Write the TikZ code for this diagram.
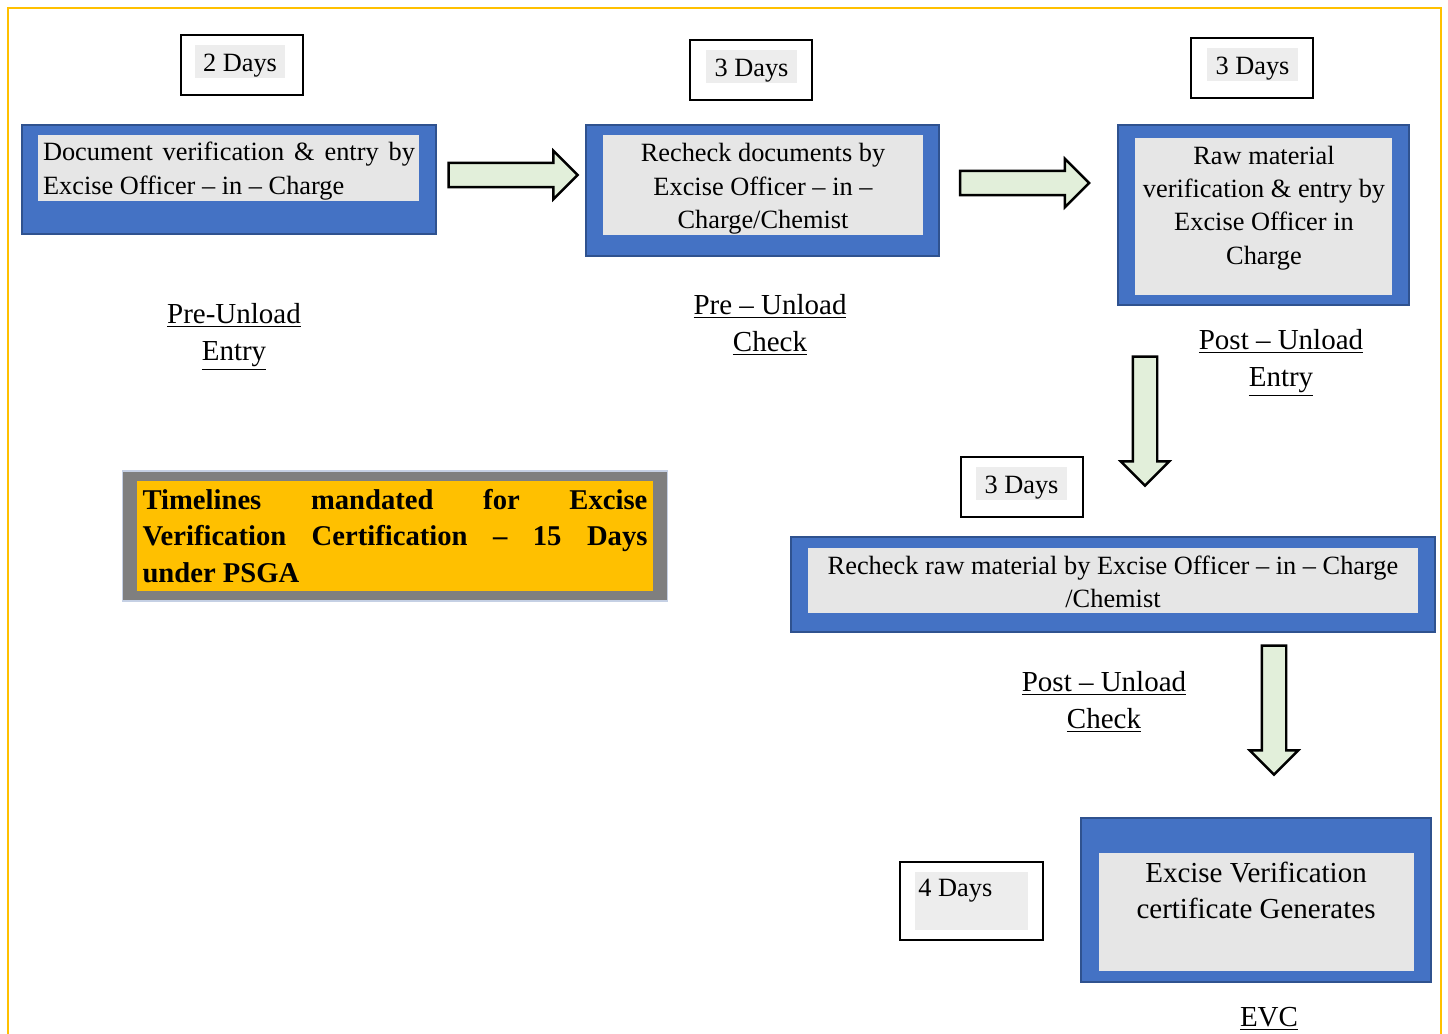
\documentclass[tikz,border=0pt]{standalone}
\usepackage{fontspec}
\setmainfont{Liberation Serif}
\usetikzlibrary{shapes.arrows}
\definecolor{boxblue}{HTML}{4472C4}
\definecolor{bluedark}{HTML}{2F528F}
\definecolor{boxgray}{HTML}{E6E6E6}
\definecolor{daysgray}{HTML}{EDEDED}
\definecolor{arrowgreen}{HTML}{E2EFDA}
\definecolor{frameyellow}{HTML}{FFC000}
\definecolor{notegray}{HTML}{7F7F7F}
\definecolor{noteedge}{HTML}{C5D0E4}
\hyphenpenalty=10000
\tolerance=9999
\tikzset{
  bluebox/.style={draw=bluedark,line width=1.2pt,fill=boxblue,inner sep=0pt},
  graybox/.style={fill=boxgray,inner sep=0pt},
  boxtext/.style={font=\fontsize{15}{19}\selectfont,align=center,inner sep=0pt},
  daysbox/.style={draw=black,line width=0.6pt,fill=white,minimum width=2.44cm,minimum height=1.2cm,inner sep=0pt},
  daysfill/.style={fill=daysgray,minimum width=1.82cm,minimum height=0.66cm,inner sep=0pt,font=\fontsize{15}{19}\selectfont},
  stagelabel/.style={font=\fontsize{16.5}{21}\selectfont,align=center,inner sep=0pt},
  blockarrow/.style={single arrow,draw=black,line width=1.4pt,fill=arrowgreen,inner xsep=0pt,inner ysep=0.22cm,single arrow head extend=0.24cm,minimum height=2.58cm},
}
\begin{document}
\begin{tikzpicture}[x=0.02cm,y=-0.02cm]
\useasboundingbox (0,0) rectangle (1448,1034);
% Frame
\draw[frameyellow,line width=1.4pt] (8,1045) -- (8,8) -- (1441,8) -- (1441,1045);

% Days
\node[daysbox] (d1) at (242,65) {};
\node[daysfill,text height=0.5cm,text depth=0.1cm] (d1in) at (240,61.5) {2 Days};
\node[daysbox] (d2) at (751,70) {};
\node[daysfill,text height=0.5cm,text depth=0.1cm] (d2in) at (751.5,66.5) {3 Days};
\node[daysbox] (d3) at (1252,68) {};
\node[daysfill,text height=0.5cm,text depth=0.1cm] (d3in) at (1252.5,64.5) {3 Days};
\node[daysbox] (d4) at (1022,487) {};
\node[daysfill,text height=0.5cm,text depth=0.1cm] (d4in) at (1021.5,483.5) {3 Days};
\node[daysbox,minimum width=2.86cm,minimum height=1.56cm] (d5) at (971.5,901) {};
\node[daysfill,minimum width=2.26cm,minimum height=1.16cm] (d5in) at (971.5,901) {};
\node[font=\fontsize{15}{19}\selectfont,anchor=west,inner sep=0pt] (d5txt) at (918,891) {4 Days};

% Steps
\node[bluebox,minimum width=8.28cm,minimum height=2.18cm] (b1) at (229,179.5) {};
\node[graybox,minimum width=7.62cm,minimum height=1.32cm] (b1in) at (228.5,168) {};
\node[boxtext,text width=7.44cm,align=justify] (b1txt) at (229,171) {Document verification \& entry by Excise Officer -- in -- Charge};

\node[bluebox,minimum width=7.06cm,minimum height=2.62cm] (b2) at (762.5,190.5) {};
\node[graybox,minimum width=6.4cm,minimum height=2cm] (b2in) at (763,185) {};
\node[boxtext] (b2txt) at (763,189) {Recheck documents by\\Excise Officer -- in --\\Charge/Chemist};

\node[bluebox,minimum width=5.82cm,minimum height=3.6cm] (b3) at (1263.5,215) {};
\node[graybox,minimum width=5.14cm,minimum height=3.14cm] (b3in) at (1263.5,216.5) {};
\node[boxtext] (b3txt) at (1264,208) {Raw material\\verification \& entry by\\Excise Officer in\\Charge};

\node[bluebox,minimum width=12.88cm,minimum height=1.9cm] (b4) at (1113,584.5) {};
\node[graybox,minimum width=12.2cm,minimum height=1.3cm] (b4in) at (1113,580.5) {};
\node[boxtext] (b4txt) at (1113,582) {Recheck raw material by Excise Officer -- in -- Charge\\/Chemist};

\node[bluebox,minimum width=7cm,minimum height=3.28cm] (b5) at (1256,900) {};
\node[graybox,minimum width=6.3cm,minimum height=2.36cm] (b5in) at (1256.5,912) {};
\node[boxtext,font=\fontsize{16.5}{20.5}\selectfont] (b5txt) at (1256,890) {Excise Verification\\certificate Generates};

% Stage labels
\node[stagelabel] (l1) at (234,337) {\underline{Pre-Unload}\\\underline{Entry}};
\node[stagelabel] (l2) at (770,325) {\underline{Pre -- Unload}\\\underline{Check}};
\node[stagelabel] (l3) at (1281,363) {\underline{Post -- Unload}\\\underline{Entry}};
\node[stagelabel] (l4) at (1104,702) {\underline{Post -- Unload}\\\underline{Check}};
\node[stagelabel] (l5) at (1269,1019) {\underline{EVC}};

% Arrows
\node[blockarrow] (a1) at (507,175) {};
\node[blockarrow] (a2) at (1018.5,183) {};
\node[blockarrow,rotate=-90] (a3) at (1145,415) {};
\node[blockarrow,rotate=-90] (a4) at (1274,704) {};

% Timeline note
\node[draw=noteedge,fill=notegray,line width=0.6pt,minimum width=10.92cm,minimum height=2.6cm] (note) at (395,536) {};
\node[fill=frameyellow,minimum width=10.32cm,minimum height=2.2cm,inner sep=0pt,text width=10.1cm,align=justify,font=\bfseries\fontsize{16.3}{20.7}\selectfont] (notetxt) at (395,536) {Timelines mandated for Excise Verification Certification -- 15 Days\linebreak under PSGA};
\end{tikzpicture}
\end{document}
